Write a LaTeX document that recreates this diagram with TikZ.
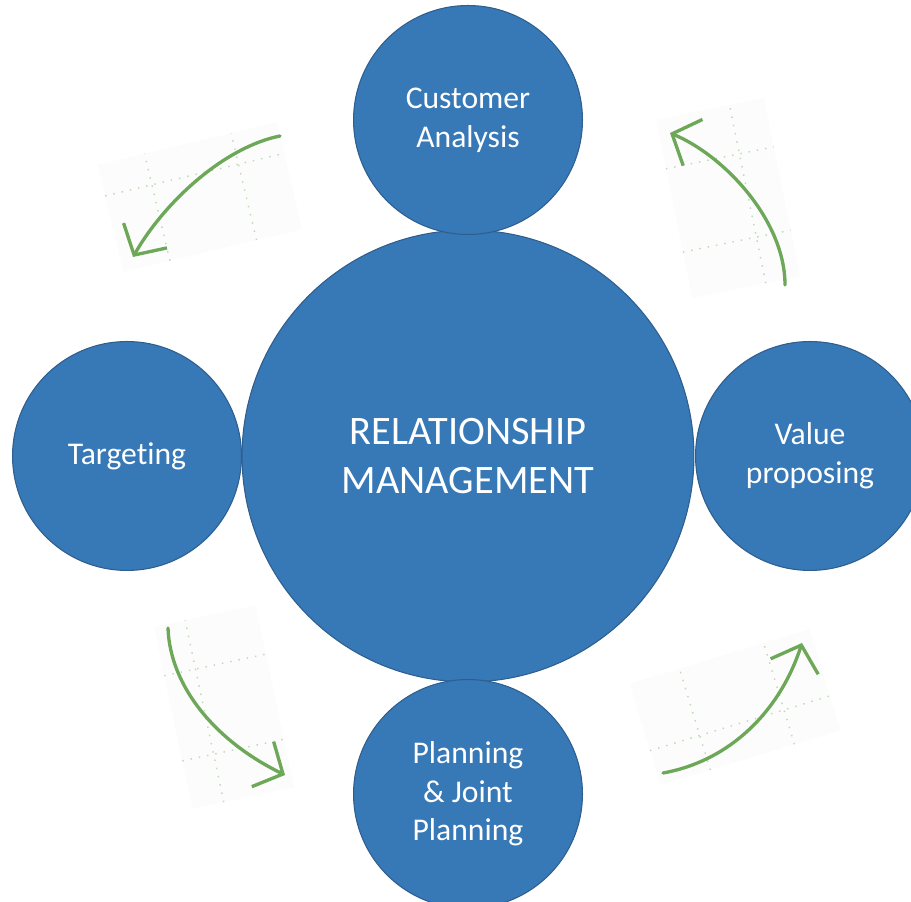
\documentclass[tikz,border=0pt]{standalone}
\usepackage{fontspec}
\setmainfont{Carlito}[Ligatures=NoCommon]
\usepackage{xcolor}
\usepackage{tikz}
\usetikzlibrary{arrows.meta}

\definecolor{bubbleblue}{RGB}{55,120,182}
\definecolor{bubbleedge}{RGB}{46,94,142}
\definecolor{sweepgreen}{RGB}{108,168,88}

\begin{document}
\begin{tikzpicture}[x=0.02cm,y=0.02cm,>=Latex,
  bubble/.style={circle, draw=bubbleedge, line width=0.6pt, fill=bubbleblue,
    text=white, align=center, inner sep=0pt},
  bigbubble/.style={bubble, minimum size=9.04cm, font=\fontsize{23}{28}\selectfont},
  smallbubble/.style={bubble, minimum size=4.58cm, font=\fontsize{18}{22}\selectfont},
  chartbg/.style={fill=black!1.2, draw=none},
  chartgrid/.style={draw=sweepgreen!45, line width=0.8pt, dash pattern=on 0.8pt off 4pt},
  sweep/.style={draw=sweepgreen, line width=1.9pt, line cap=round,
    -{Straight Barb[length=4.5mm,width=10mm,line width=1.9pt]}}]

\useasboundingbox (0,0) rectangle (911,901);
\clip (0,0) rectangle (911,901);

% Faint chart patches behind the arrows
\begin{scope}[shift={(200,704)}, rotate=13.4]
  \fill[chartbg] (-92,-55) rectangle (92,55);
  \draw[chartgrid] (-44,-55) -- (-44,55);
  \draw[chartgrid] (45,-55) -- (45,55);
  \draw[chartgrid] (-92,23) -- (92,23);
\end{scope}

\begin{scope}[shift={(728,703)}, rotate=11.5]
  \fill[chartbg] (-55,-91) rectangle (55,91);
  \draw[chartgrid] (-55,41) -- (55,41);
  \draw[chartgrid] (-55,-44) -- (55,-44);
  \draw[chartgrid] (20,-91) -- (20,91);
\end{scope}

\begin{scope}[shift={(224,194)}, rotate=12]
  \fill[chartbg] (-52,-93) rectangle (52,93);
  \draw[chartgrid] (-20,-93) -- (-20,93);
  \draw[chartgrid] (-52,43) -- (52,43);
  \draw[chartgrid] (-52,-44) -- (52,-44);
\end{scope}

\begin{scope}[shift={(735,194)}, rotate=16.9]
  \fill[chartbg] (-94,-53) rectangle (94,53);
  \draw[chartgrid] (-42,-53) -- (-42,53);
  \draw[chartgrid] (46,-53) -- (46,53);
  \draw[chartgrid] (-94,-17) -- (94,-17);
\end{scope}

% Bubbles
\node[bigbubble] (core) at (468,445) {RELATIONSHIP\\MANAGEMENT};
\node[smallbubble] (analysis) at (468,781) {Customer\\Analysis};
\node[smallbubble] (targeting) at (127,445) {Targeting};
\node[smallbubble] (value) at (810,445) {Value\\proposing};
\node[smallbubble] (planning) at (468,107) {Planning\\\& Joint\\Planning};

% Arrow ends
\coordinate (tlstart) at (280,765);
\coordinate (tlend) at (133,644);
\coordinate (trstart) at (785,616);
\coordinate (trend) at (670,768);
\coordinate (blstart) at (168,273);
\coordinate (blend) at (285,126);
\coordinate (brstart) at (663,128);
\coordinate (brend) at (802,258);

% Sweeping arrows
\draw[sweep] (tlstart) .. controls (225,754) and (165,700) .. (tlend);
\draw[sweep] (trstart) .. controls (785,680) and (725,745) .. (trend);
\draw[sweep] (blstart) .. controls (170,215) and (215,160) .. (blend);
\draw[sweep] (brstart) .. controls (730,140) and (780,190) .. (brend);

\end{tikzpicture}
\end{document}
